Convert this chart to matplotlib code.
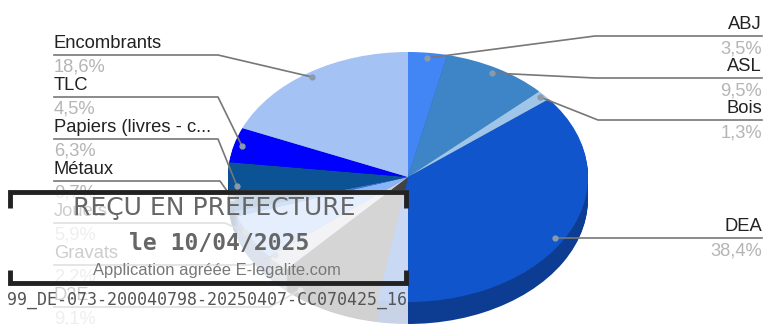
import matplotlib
matplotlib.use("Agg")
import matplotlib.pyplot as plt
from matplotlib.patches import Rectangle
from matplotlib.colors import to_rgb

# sens horaire depuis le haut
categories = ["ABJ", "ASL", "Bois", "DEA", "D3E", "Gravats", "Jouets", "Métaux",
              "Papiers (livres - c...", "TLC", "Encombrants"]
valeurs = [3.5, 9.5, 1.3, 38.4, 9.1, 2.2, 5.9, 0.7, 6.3, 4.5, 18.6]
etiquettes = ["3,5%", "9,5%", "1,3%", "38,4%", "9,1%", "2,2%", "5,9%", "0,7%",
              "6,3%", "4,5%", "18,6%"]
couleurs = ["#4285F4", "#3D85C6", "#9FC5E8", "#1155CC", "#434343", "#C9CDD6", "#8AB4F8",
            "#3C78D8", "#0B5394", "#0000FF", "#A4C2F4"]

W, H = 765, 325
cx, cy, rx, ry, prof = 408, 177, 180, 125, 22

fig = plt.figure(figsize=(W / 100, H / 100), dpi=100)
plt.rcParams["font.family"] = "Liberation Sans"

ax_pie = fig.add_axes([(cx - rx) / W, 0, 2 * rx / W, 1])

# la tranche 3D : mêmes parts empilées vers le bas, plus sombres
sombres = [tuple(c * 0.72 for c in to_rgb(x)) for x in couleurs]
for i in range(prof, 0, -1):
    ax_pie.pie(valeurs, colors=sombres, startangle=90, counterclock=False,
               center=(0, -i / ry), radius=1, frame=True)
ax_pie.pie(valeurs, colors=couleurs, startangle=90, counterclock=False, center=(0, 0), radius=1,
           frame=True)
ax_pie.set_aspect("auto")
ax_pie.set_xlim(-1, 1)
ax_pie.set_ylim((cy - H) / ry, cy / ry)
ax_pie.axis("off")

ax = fig.add_axes([0, 0, 1, 1])
ax.set_xlim(0, W)
ax.set_ylim(H, 0)
ax.axis("off")
ax.patch.set_alpha(0)

# repères des étiquettes : (x début, y ligne, x coude, x point, y point)
gauche = {
    "Encombrants": (54, 55, 218, 312, 77),
    "TLC": (54, 97, 218, 242, 146),
    "Papiers (livres - c...": (54, 139, 218, 237, 186),
    "Métaux": (54, 181, 220, 232, 198),
    "Jouets": (54, 223, 225, 245, 232),
    "Gravats": (54, 265, 250, 275, 255),
    "D3E": (54, 307, 270, 300, 290),
}
droite = {
    "ABJ": (762, 36, 595, 427, 58),
    "ASL": (762, 78, 595, 492, 73),
    "Bois": (762, 120, 598, 540, 97),
    "DEA": (762, 238, 600, 555, 238),
}

for nom, val in zip(categories, etiquettes):
    if nom in gauche:
        x0, y, xc, xp, yp = gauche[nom]
        ha = "left"
    else:
        x0, y, xc, xp, yp = droite[nom]
        ha = "right"
    ax.plot([x0, xc, xp], [y, y, yp], color="#777777", lw=1.2, zorder=3)
    ax.plot([xp], [yp], "o", ms=3.5, color="#8a9aa8", zorder=3)
    ax.text(x0, y - 3, nom, ha=ha, va="bottom", fontsize=13.2, color="#222222", zorder=4)
    ax.text(x0, y + 4, val, ha=ha, va="top", fontsize=13.2, color="#b5b5b5", zorder=4)

# tampon de la préfecture
ax.add_patch(Rectangle((0, 190), 408, 135, fc="white", alpha=0.78, ec="none", zorder=5))
ax.plot([10, 10, 406, 406], [208, 192, 192, 208], color="#222222", lw=3.5, zorder=6,
        solid_capstyle="butt", solid_joinstyle="miter")
ax.plot([10, 10, 406, 406], [270, 283, 283, 270], color="#222222", lw=3.5, zorder=6,
        solid_capstyle="butt", solid_joinstyle="miter")
ax.text(214, 208, "REÇU EN PREFECTURE", ha="center", va="center", fontsize=18, color="#666666",
        family="DejaVu Sans", zorder=7)
ax.text(219, 243, "le 10/04/2025", ha="center", va="center", fontsize=16.6, color="#666666",
        family="DejaVu Sans Mono", fontweight="bold", zorder=7)
ax.text(217, 270, "Application agréée E-legalite.com", ha="center", va="center", fontsize=11.9,
        color="#777777", zorder=7)
ax.text(7, 300, "99_DE-073-200040798-20250407-CC070425_16", ha="left", va="center", fontsize=12,
        color="#555555", family="DejaVu Sans Mono", zorder=7)

fig.savefig("out.png", dpi=100)
